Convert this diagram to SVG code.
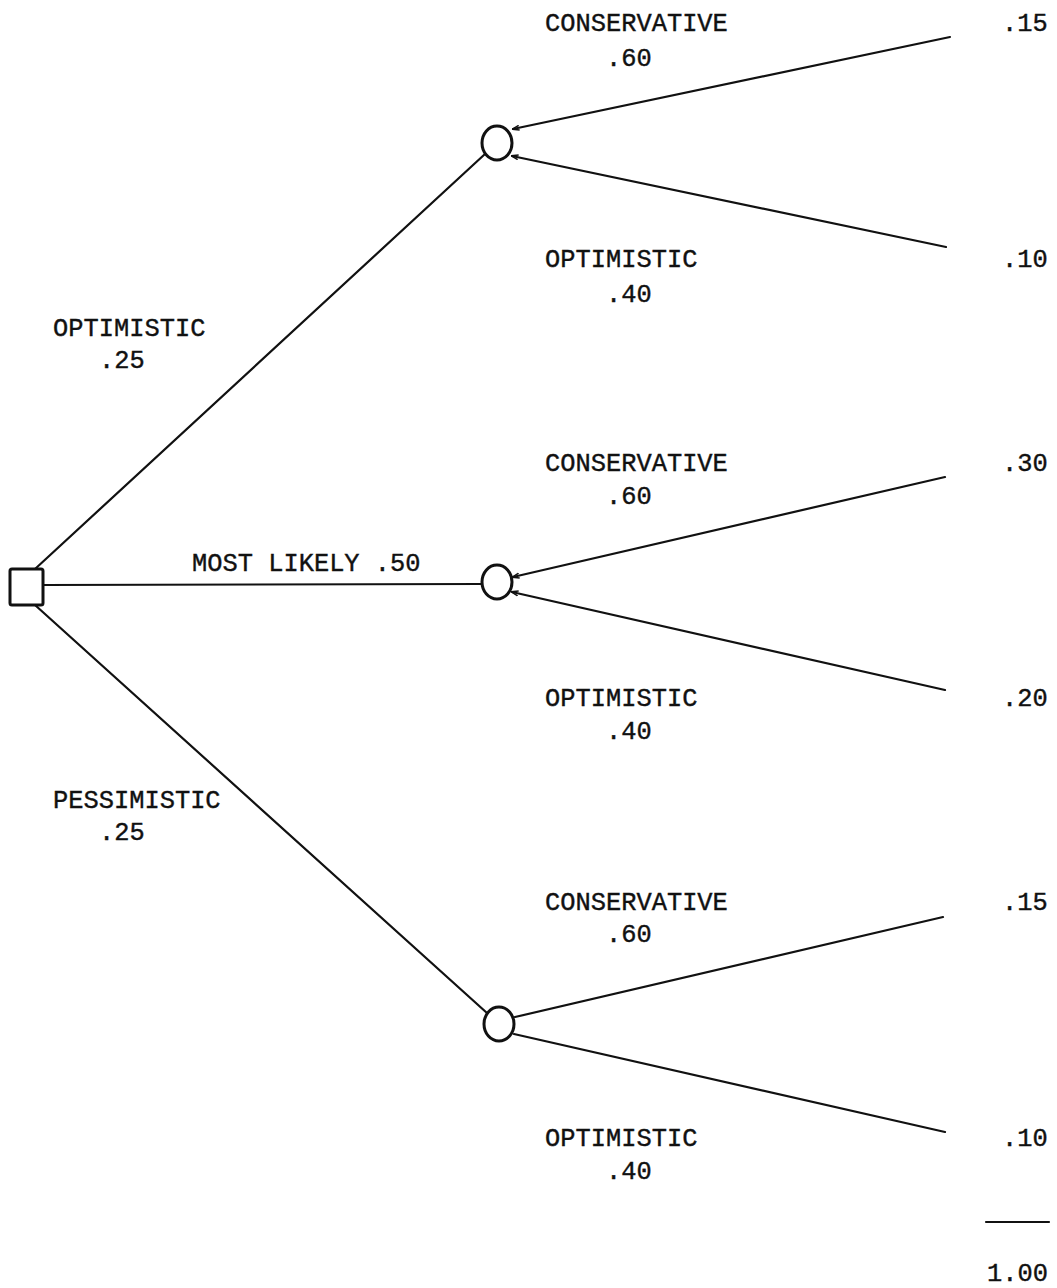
<svg xmlns="http://www.w3.org/2000/svg" width="1057" height="1288" viewBox="0 0 1057 1288">
<style>
text{font-family:"Liberation Mono","Courier New",monospace;font-size:25.4px;fill:#111;stroke:#111;stroke-width:0.4}
.ln{stroke:#111;stroke-width:2.2;fill:none;stroke-linecap:round}
.nd{stroke:#111;stroke-width:3;fill:#fff}
</style>
<defs>
<marker id="ah" viewBox="0 0 10 10" refX="9" refY="5" markerWidth="7" markerHeight="7" markerUnits="userSpaceOnUse" orient="auto">
<path d="M0,1.5 L10,5 L0,8.5" fill="none" stroke="#111" stroke-width="2.2"/>
</marker>
</defs>
<rect width="1057" height="1288" fill="#fff"/>
<g id="connectors">
<line class="ln" x1="35" y1="569" x2="485" y2="154"/>
<line class="ln" x1="44" y1="585" x2="482" y2="584"/>
<line class="ln" x1="35" y1="605" x2="487" y2="1013"/>
<line class="ln" x1="950" y1="37" x2="513" y2="129" marker-end="url(#ah)"/>
<line class="ln" x1="946" y1="247" x2="512" y2="156" marker-end="url(#ah)"/>
<line class="ln" x1="945" y1="477" x2="513" y2="577" marker-end="url(#ah)"/>
<line class="ln" x1="945" y1="690" x2="512" y2="592" marker-end="url(#ah)"/>
<line class="ln" x1="943" y1="917" x2="515" y2="1017"/>
<line class="ln" x1="945" y1="1132" x2="514" y2="1034"/>
<line class="ln" x1="986" y1="1222" x2="1049" y2="1222"/>
</g>
<g id="decision">
<rect class="nd" x="10" y="569" width="33" height="36" rx="2"/>
</g>
<g id="chance1">
<ellipse class="nd" cx="497" cy="143" rx="15" ry="17"/>
</g>
<g id="chance2">
<ellipse class="nd" cx="497" cy="582" rx="15" ry="17"/>
</g>
<g id="chance3">
<ellipse class="nd" cx="499" cy="1024" rx="15" ry="17"/>
</g>
<g id="labels">
<text x="53" y="336">OPTIMISTIC</text>
<text x="99" y="368">.25</text>
<text x="192" y="571">MOST LIKELY .50</text>
<text x="53" y="808">PESSIMISTIC</text>
<text x="99" y="840">.25</text>
<text x="545" y="31">CONSERVATIVE</text>
<text x="606" y="66">.60</text>
<text x="545" y="267">OPTIMISTIC</text>
<text x="606" y="302">.40</text>
<text x="545" y="471">CONSERVATIVE</text>
<text x="606" y="504">.60</text>
<text x="545" y="706">OPTIMISTIC</text>
<text x="606" y="739">.40</text>
<text x="545" y="910">CONSERVATIVE</text>
<text x="606" y="942">.60</text>
<text x="545" y="1146">OPTIMISTIC</text>
<text x="606" y="1179">.40</text>
</g>
<g id="outcomes">
<text x="1002" y="31">.15</text>
<text x="1002" y="267">.10</text>
<text x="1002" y="471">.30</text>
<text x="1002" y="706">.20</text>
<text x="1002" y="910">.15</text>
<text x="1002" y="1146">.10</text>
<text x="987" y="1281">1.00</text>
</g>
</svg>
